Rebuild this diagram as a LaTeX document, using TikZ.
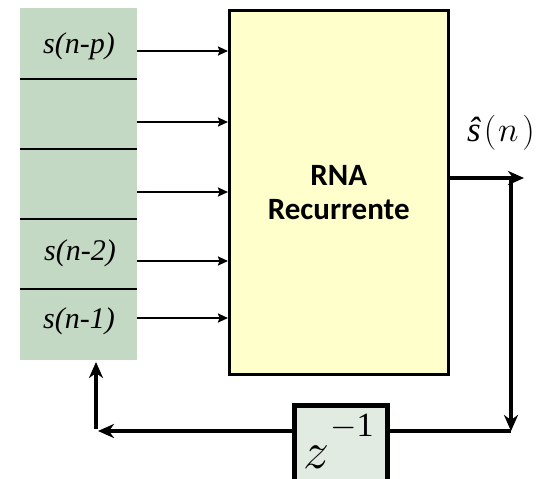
\RequirePackage{fix-cm}
\documentclass[tikz,border=0pt]{standalone}
\usepackage{fontspec}
\setmainfont{Liberation Serif}
\newfontfamily\carl{Carlito}
\usetikzlibrary{arrows.meta}
\definecolor{memgreen}{HTML}{C4D9C4}
\definecolor{rnnyellow}{HTML}{FFFFCC}
\definecolor{zgreen}{HTML}{E2EBE2}
\tikzset{
  inarrow/.style={line width=2pt,-{Stealth[length=10pt,width=9pt,inset=1.5pt]}},
  fbarrow/.style={line width=4pt,-{Stealth[length=16pt,width=14pt,inset=5pt]}},
  fbline/.style={line width=4pt},
  sep/.style={line width=2.6pt},
  lbl/.style={font=\fontsize{30}{32}\selectfont\itshape, inner sep=0pt, anchor=center},
}
\begin{document}
\begin{tikzpicture}[x=1pt,y=-1pt]
\useasboundingbox (0,0) rectangle (544,479);
\clip (0,0) rectangle (544,479);
% memory column
\node[fill=memgreen, minimum width=117pt, minimum height=352pt, inner sep=0pt, anchor=north west] (mem) at (20,8) {};
\draw[sep] (20,79) -- (137,79);
\draw[sep] (20,149) -- (137,149);
\draw[sep] (20,219) -- (137,219);
\draw[sep] (20,289) -- (137,289);
\node[lbl] (l1) at (79,46) {s(n-p)};
\node[lbl] (l4) at (80,253) {s(n-2)};
\node[lbl] (l5) at (79,321) {s(n-1)};
\coordinate (c1) at (137,51);
\coordinate (c2) at (137,122);
\coordinate (c3) at (137,192);
\coordinate (c4) at (137,261);
\coordinate (c5) at (137,318);
% RNN box
\node[draw, line width=2.5pt, fill=rnnyellow, minimum width=219pt, minimum height=364pt, inner sep=0pt, anchor=north west,
  align=center, font=\carl\bfseries\fontsize{31}{34}\selectfont] (rnn) at (228,9) {RNA\\Recurrente};
\foreach \c in {c1,c2,c3,c4,c5}
  \draw[inarrow] (\c) -- (rnn.west |- \c);
% output
\coordinate (out) at (524,178);
\coordinate (down) at (511,178);
\coordinate (br) at (511,431);
\node[font=\fontsize{35}{37}\selectfont, inner sep=0pt] (shat) at (501,133) {{\itshape ŝ}\kern3pt$(\mkern1mu n\mkern2mu)$};
\draw[fbarrow] (rnn.east |- out) -- (out);
\draw[fbarrow] (down) -- (br);
% z^-1 box
\node[draw, line width=4.5pt, fill=zgreen, minimum width=93pt, minimum height=90pt, inner sep=0pt, anchor=north west] (z) at (292,403) {};
\node[inner sep=0pt, font=\fontsize{52}{52}\selectfont] (zz) at (316,457) {$z$};
\node[inner sep=0pt, font=\fontsize{34}{34}\selectfont] (zexp) at (352,427) {$-$1};
\coordinate (bl) at (96,431);
\coordinate (up) at (96,362);
\draw[fbline] (br) -- (z.east |- br);
\draw[fbarrow] (z.west |- br) -- ([xshift=2pt]bl);
\draw[fbarrow] ([yshift=2pt]bl) -- (up);
\end{tikzpicture}
\end{document}
